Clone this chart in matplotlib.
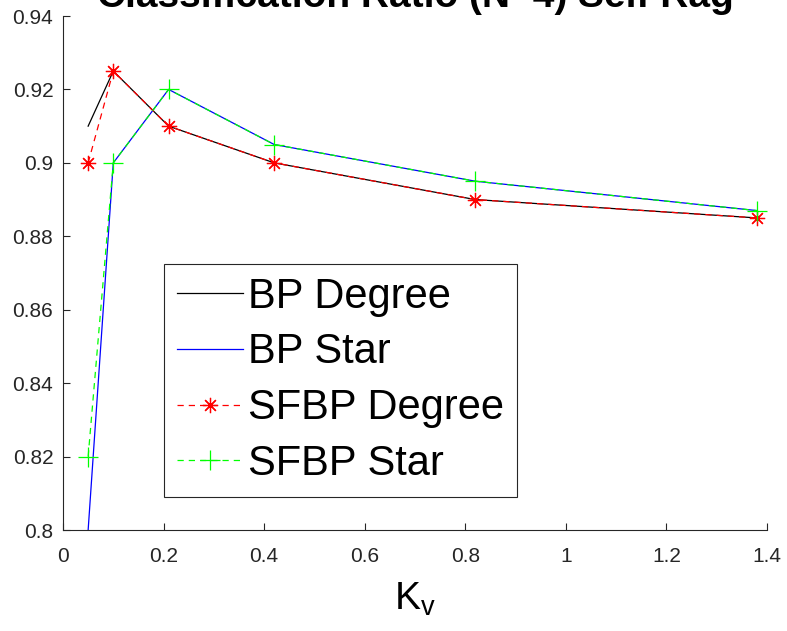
import matplotlib
matplotlib.use("Agg")
import matplotlib.pyplot as plt
from matplotlib.ticker import FuncFormatter

plt.rcParams['font.family'] = ['Liberation Sans', 'DejaVu Sans']
plt.rcParams['mathtext.default'] = 'regular'

kv = [0.05, 0.1, 0.21, 0.42, 0.82, 1.38]
bp_degree = [0.91, 0.925, 0.91, 0.90, 0.89, 0.885]
bp_star = [0.80, 0.90, 0.92, 0.905, 0.895, 0.887]
sfbp_degree = [0.90, 0.925, 0.91, 0.90, 0.89, 0.885]
sfbp_star = [0.82, 0.90, 0.92, 0.905, 0.895, 0.887]
labels = ['BP Degree', 'BP Star', 'SFBP Degree', 'SFBP Star']
title = 'Classification Ratio (N=4) Self Rag'

fig = plt.figure(figsize=(7.87, 6.31), dpi=100)
ax = fig.add_axes([63/787, 1-530/631, 704/787, 514/631])

lw = 0.9
ax.plot(kv, bp_degree, color='black', lw=lw, label=labels[0])
ax.plot(kv, bp_star, color='#0000ff', lw=lw, label=labels[1])
ax.plot(kv, sfbp_degree, color='#ff0000', lw=lw, ls=(0, (5, 4)),
        marker=(8, 2, 0), ms=11, mew=0.9, label=labels[2])
ax.plot(kv, sfbp_star, color='#00ff00', lw=lw, ls=(0, (5, 4)),
        marker='+', ms=14, mew=0.9, label=labels[3])

ax.set_xlim(0, 1.4)
ax.set_ylim(0.8, 0.94)
ax.set_xticks([0, 0.2, 0.4, 0.6, 0.8, 1.0, 1.2, 1.4])
ax.set_yticks([0.8, 0.82, 0.84, 0.86, 0.88, 0.9, 0.92, 0.94])
fmt = FuncFormatter(lambda v, p: '%g' % round(v, 4))
ax.xaxis.set_major_formatter(fmt)
ax.yaxis.set_major_formatter(fmt)

for s in ['top', 'right']:
    ax.spines[s].set_visible(False)
for s in ['left', 'bottom']:
    ax.spines[s].set_color('#262626')
    ax.spines[s].set_linewidth(0.8)
ax.tick_params(direction='in', length=5, width=0.8, color='#262626',
               labelcolor='#262626', labelsize=15)
ax.tick_params(axis='x', pad=12)
ax.tick_params(axis='y', pad=7)

ax.set_xlabel(r'$K_v$', fontsize=28, labelpad=11)

fig.text((63 + 767) / 2 / 787, 1 - 7 / 631, title, ha='center', va='baseline',
         fontsize=28, fontweight='bold')

leg = ax.legend(loc='upper left', bbox_to_anchor=(0.1435, 0.5175, 0.5015, 0.0),
                mode='expand', fontsize=30, frameon=True, fancybox=False,
                edgecolor='#262626', framealpha=1, borderaxespad=0,
                handlelength=1.6, handletextpad=0.12, labelspacing=0.38,
                borderpad=0.3)
leg.get_frame().set_linewidth(0.8)

fig.savefig('out.png', dpi=100)
